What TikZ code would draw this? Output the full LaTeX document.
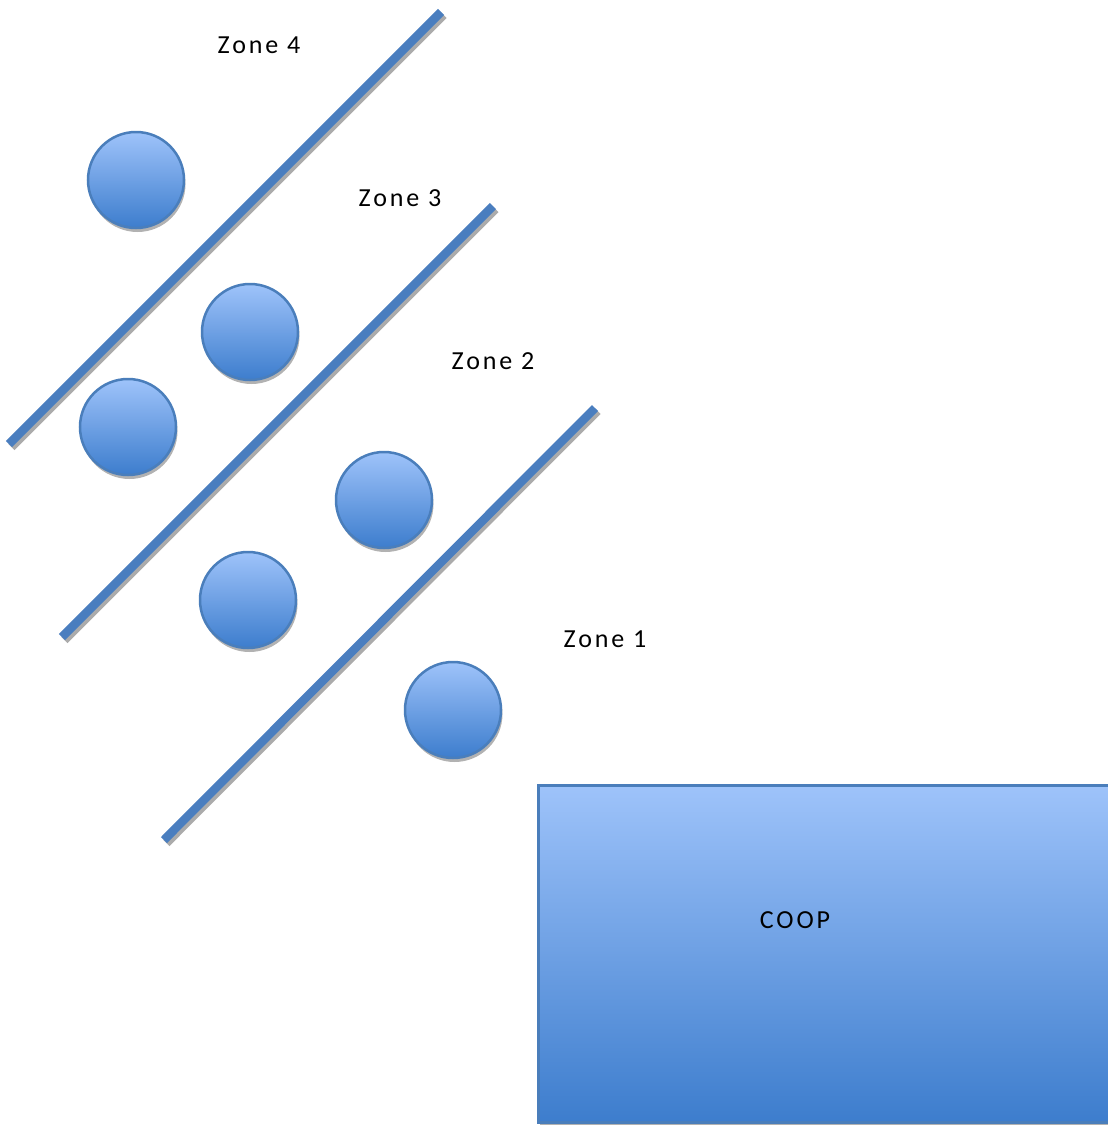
\documentclass[tikz,border=0pt]{standalone}
\usepackage{fontspec}
\setmainfont[LetterSpace=11]{Carlito}
\definecolor{lineblue}{HTML}{4A7EBF}
\definecolor{edgeblue}{HTML}{4A7EBB}
\definecolor{toplight}{HTML}{9EC3FA}
\definecolor{botdark}{HTML}{3D7DCD}
\tikzset{
  zoneline/.style={draw=lineblue, line width=8.5pt, line cap=butt},
  zoneshadow/.style={draw=black!33, line width=8.5pt, line cap=butt},
  tree/.style={circle, minimum size=96pt, inner sep=0pt, draw=edgeblue, line width=2.5pt,
    top color=toplight, bottom color=botdark},
  treeshadow/.style={circle, minimum size=96pt, inner sep=0pt, fill=black!30},
  lbl/.style={font=\fontsize{26}{31}\selectfont, text=black, inner sep=0pt}
}
\begin{document}
\begin{tikzpicture}[x=1pt,y=-1pt]
\useasboundingbox (0,0) rectangle (1108,1125);
% line end points
\coordinate (a1) at (441,12);  \coordinate (a2) at (9,444);
\coordinate (b1) at (493,206); \coordinate (b2) at (62,637);
\coordinate (c1) at (595,408); \coordinate (c2) at (164,840);
% shadows of lines
\foreach \p/\q in {a1/a2,b1/b2,c1/c2}{
  \draw[zoneshadow] ([shift={(2.5,3)}]\p) -- ([shift={(2.5,3)}]\q);
}
\draw[zoneline] (a1) -- (a2);
\draw[zoneline] (b1) -- (b2);
\draw[zoneline] (c1) -- (c2);
% tree shadows
\foreach \x/\y in {136/180,250/332,128/427,384/500,248/600,453/710}{
  \node[treeshadow] at (\x+1.5,\y+4) {};
}
\node[tree] (t1) at (136,180) {};
\node[tree] (t2) at (250,332) {};
\node[tree] (t3) at (128,427) {};
\node[tree] (t4) at (384,500) {};
\node[tree] (t5) at (248,600) {};
\node[tree] (t6) at (453,710) {};
% coop
\fill[black!30] (540,788) rectangle (1108,1125);
\draw[draw=edgeblue, line width=3pt, top color=toplight, bottom color=botdark] (538,785) rectangle (1109,1122);
\node[lbl] (coop) at (795,920) {COOP};
% labels
\node[lbl] (z4) at (259,45) {Zone 4};
\node[lbl] (z3) at (400,198) {Zone 3};
\node[lbl] (z2) at (493,361) {Zone 2};
\node[lbl] (z1) at (605,639) {Zone 1};
\end{tikzpicture}
\end{document}
